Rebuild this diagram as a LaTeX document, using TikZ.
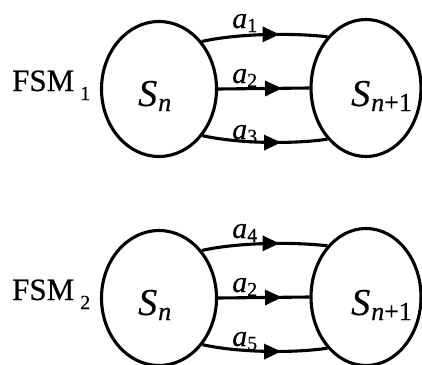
\documentclass[tikz,border=0pt]{standalone}
\usepackage{fontspec}
\setmainfont{Liberation Serif}[FakeBold=0.4]
\usetikzlibrary{shapes.geometric,arrows.meta,decorations.markings}
\newcommand{\stS}[1]{{\fontsize{38}{38}\selectfont\itshape S}\kern1pt\raisebox{-5pt}{\fontsize{26}{26}\selectfont #1}}
\newcommand{\lab}[1]{{\fontsize{30}{30}\selectfont\itshape a}\kern0pt\raisebox{-4pt}{\fontsize{20}{20}\selectfont #1}}
\newcommand{\fsm}[1]{{\fontsize{31}{31}\selectfont FSM}\kern6pt\raisebox{-9pt}{\fontsize{20}{20}\selectfont #1}}
\begin{document}
\begin{tikzpicture}[x=1pt,y=-1pt,
  lstate/.style={ellipse,draw,line width=3.1pt,minimum width=115pt,minimum height=135pt,inner sep=0pt},
  rstate/.style={ellipse,draw,line width=3.1pt,minimum width=110pt,minimum height=137pt,inner sep=0pt},
  txt/.style={anchor=base west,inner sep=0pt},
  trans/.style={line width=3.1pt,postaction={decorate},
    decoration={markings,mark=at position #1 with {\arrow{Triangle[length=17pt,width=15pt]}}}}]
\useasboundingbox (0,0) rectangle (422,364);
% FSM 1
\node[lstate] (L1) at (159,89) {};
\node[rstate] (R1) at (366,88) {};
\node[txt] (f1) at (12,91) {\fsm{1}};
\node[txt] (s1) at (138,106) {\stS{\itshape n}};
\node[txt] (t1) at (351,106) {\stS{\itshape n\upshape +1}};
\draw[trans=0.62] (L1.48) .. controls (240,33) and (295,33) .. (R1.127);
\draw[trans=0.7] (L1.east) -- (R1.west);
\draw[trans=0.63] (L1.-47) .. controls (240,144) and (295,144) .. (R1.-127);
\node[txt] (a1) at (232,28) {\lab{1}};
\node[txt] (a2) at (232,83) {\lab{2}};
\node[txt] (a3) at (232,139) {\lab{3}};
% FSM 2
\node[lstate] (L2) at (159,298) {};
\node[rstate] (R2) at (366,297) {};
\node[txt] (f2) at (12,300) {\fsm{2}};
\node[txt] (s2) at (138,315) {\stS{\itshape n}};
\node[txt] (t2) at (351,315) {\stS{\itshape n\upshape +1}};
\draw[trans=0.62] (L2.48) .. controls (240,242) and (295,242) .. (R2.127);
\draw[trans=0.7] (L2.east) -- (R2.west);
\draw[trans=0.63] (L2.-47) .. controls (240,353) and (295,353) .. (R2.-127);
\node[txt] (a4) at (232,238) {\lab{4}};
\node[txt] (a22) at (232,292) {\lab{2}};
\node[txt] (a5) at (232,346) {\lab{5}};
\end{tikzpicture}
\end{document}
